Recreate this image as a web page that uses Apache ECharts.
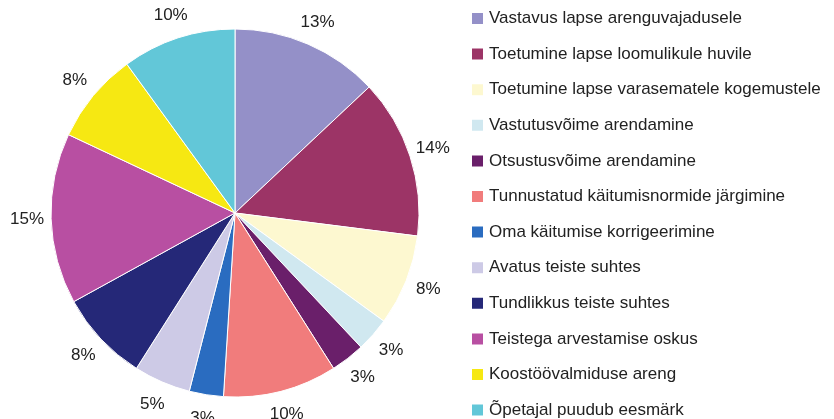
<!DOCTYPE html>
<html lang="et">
<head>
  <meta charset="UTF-8">
  <title>Pie</title>
  <script src="https://cdn.jsdelivr.net/npm/echarts@6/dist/echarts.min.js"></script>
  <style>
    body { margin: 0; background: #fff; }
    #chart { width: 834px; height: 419px; }
  </style>
</head>
<body>
  <div id="chart"></div>
  <script>
    const names = [
      'Vastavus lapse arenguvajadusele',
      'Toetumine lapse loomulikule huvile',
      'Toetumine lapse varasematele kogemustele',
      'Vastutusvõime arendamine',
      'Otsustusvõime arendamine',
      'Tunnustatud käitumisnormide järgimine',
      'Oma käitumise korrigeerimine',
      'Avatus teiste suhtes',
      'Tundlikkus teiste suhtes',
      'Teistega arvestamise oskus',
      'Koostöövalmiduse areng',
      'Õpetajal puudub eesmärk'
    ]
    const values = [13, 14, 8, 3, 3, 10, 3, 5, 8, 15, 8, 10]
    const colors = [
      '#9490c8', '#9c3466', '#fdf8d0', '#d0e8f0', '#6a1f6a', '#f17c7c',
      '#2a6cc0', '#cdcae6', '#252878', '#b84fa2', '#f6e812', '#62c7d8'
    ]

    const chart = echarts.init(document.getElementById('chart'))
    const pieData = names.map((n, i) => ({ name: n, value: values[i] }))

    chart.setOption({
      animation: false,
      color: colors,
      textStyle: { fontFamily: 'Liberation Sans, Arial, sans-serif' },
      legend: {
        orient: 'vertical',
        left: 470,
        top: 10,
        height: 440,
        padding: 0,
        itemWidth: 13,
        itemHeight: 13,
        itemGap: 18.6,
        icon: 'rect',
        textStyle: { fontSize: 17, color: '#222' },
        data: names
      },
      series: [
        {
          type: 'pie',
          center: [235, 213],
          radius: 184,
          startAngle: 90,
          clockwise: true,
          itemStyle: { borderColor: '#fff', borderWidth: 1 },
          label: { show: false },
          labelLine: { show: false },
          data: pieData
        },
        // invisible ring only used to put the % labels around the pie
        {
          type: 'pie',
          center: [235, 213],
          radius: [0, 410],
          startAngle: 90,
          clockwise: true,
          silent: true,
          itemStyle: { color: 'transparent', borderWidth: 0 },
          label: {
            position: 'inside',
            formatter: '{c}%',
            fontSize: 17,
            color: '#222'
          },
          labelLine: { show: false },
          data: pieData
        }
      ]
    })
  </script>
</body>
</html>
